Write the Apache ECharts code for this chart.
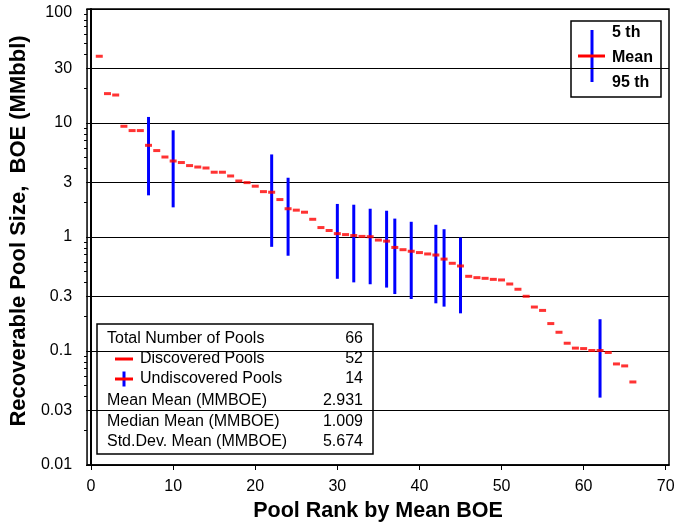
<!DOCTYPE html>
<html><head><meta charset="utf-8">
<script src="https://cdn.jsdelivr.net/npm/echarts@6/dist/echarts.min.js"></script>
<style>html,body{margin:0;padding:0;background:#fff}#c{width:682px;height:529px}</style>
</head><body><div id="c"></div>
<script>
// Mean recoverable pool size (MMBOE) for pools ranked 1..66
const meanBOE = [
  38.5, 18.1, 17.6, 9.36, 8.58, 8.58, 6.37, 5.73, 5.03, 4.64,
  4.50, 4.23, 4.11, 4.03, 3.70, 3.70, 3.43, 3.10, 3.00, 2.79,
  2.50, 2.47, 2.13, 1.77, 1.72, 1.65, 1.43, 1.21, 1.14, 1.07,
  1.05, 1.03, 1.012, 1.006, 0.94, 0.92, 0.81, 0.774, 0.75, 0.73,
  0.71, 0.695, 0.64, 0.588, 0.557, 0.452, 0.44, 0.434, 0.425, 0.42,
  0.387, 0.348, 0.302, 0.243, 0.227, 0.174, 0.146, 0.117, 0.106, 0.105,
  0.101, 0.101, 0.097, 0.077, 0.074, 0.0535
];
// Undiscovered pools: rank, 5th and 95th fractiles
const undiscoveredRank = [7, 10, 22, 24, 30, 32, 34, 36, 37, 39, 42, 43, 45, 62];
const p5 = [2.32, 1.82, 0.82, 0.685, 0.43, 0.40, 0.385, 0.36, 0.316, 0.286, 0.262, 0.245, 0.214, 0.039];
const p95 = [11.3, 8.63, 5.3, 3.31, 1.95, 1.92, 1.77, 1.70, 1.45, 1.36, 1.28, 1.17, 0.99, 0.19];

const xTicks = [0, 10, 20, 30, 40, 50, 60, 70];
const yTicks = [0.01, 0.03, 0.1, 0.3, 1, 3, 10, 30, 100];
const yMinorTicks = [0.02,0.04,0.05,0.06,0.07,0.08,0.09, 0.2,0.4,0.5,0.6,0.7,0.8,0.9,
                     2,4,5,6,7,8,9, 20,40,50,60,70,80,90];

const statsLabels = ['Total Number of Pools', 'Discovered Pools', 'Undiscovered Pools',
                     'Mean Mean (MMBOE)', 'Median Mean (MMBOE)', 'Std.Dev. Mean (MMBOE)'];
const statsValues = ['66', '52', '14', '2.931', '1.009', '5.674'];
const keyLabels = ['5 th', 'Mean', '95 th'];

const FONT = '"Liberation Sans", Arial, sans-serif';
const RED = '#ff0000', BLUE = '#0000ff';

const meanData = meanBOE.map((v, i) => [i + 1, v]);
const rangeData = undiscoveredRank.map((r, i) => [r, p5[i], p95[i]]);

// stats box graphics
const statsRowY = [338.5, 359, 379, 401, 421.5, 442];
const statsEls = [
  {type: 'rect', shape: {x: 97, y: 324, width: 276, height: 130},
   style: {fill: '#fff', stroke: '#000', lineWidth: 1.5}}
];
statsLabels.forEach((t, i) => {
  const indent = (i === 1 || i === 2) ? 140 : 107;
  statsEls.push({type: 'text', x: indent, y: statsRowY[i],
    style: {text: t, font: '16px ' + FONT, fill: '#000', textAlign: 'left', textVerticalAlign: 'middle'}});
  statsEls.push({type: 'text', x: 363, y: statsRowY[i],
    style: {text: statsValues[i], font: '16px ' + FONT, fill: '#000', textAlign: 'right', textVerticalAlign: 'middle'}});
});
statsEls.push({type: 'line', shape: {x1: 115, y1: 359, x2: 133, y2: 359}, style: {stroke: RED, lineWidth: 3}});
statsEls.push({type: 'line', shape: {x1: 124, y1: 371.5, x2: 124, y2: 386.5}, style: {stroke: BLUE, lineWidth: 3}});
statsEls.push({type: 'line', shape: {x1: 115, y1: 379, x2: 133, y2: 379}, style: {stroke: RED, lineWidth: 3}});

// key box graphics
const keyRowY = [33, 58, 83];
const keyEls = [
  {type: 'rect', shape: {x: 571, y: 21, width: 90, height: 76},
   style: {fill: '#fff', stroke: '#000', lineWidth: 1.5}},
  {type: 'line', shape: {x1: 592, y1: 30, x2: 592, y2: 82}, style: {stroke: BLUE, lineWidth: 3}},
  {type: 'line', shape: {x1: 578, y1: 56, x2: 605, y2: 56}, style: {stroke: RED, lineWidth: 3}}
];
keyLabels.forEach((t, i) => {
  keyEls.push({type: 'text', x: 612, y: keyRowY[i],
    style: {text: t, font: 'bold 16px ' + FONT, fill: '#000', textAlign: 'left', textVerticalAlign: 'middle'}});
});

const chart = echarts.init(document.getElementById('c'), null, {renderer: 'canvas'});
chart.setOption({
  animation: false,
  backgroundColor: '#fff',
  grid: {left: 86, right: 13, top: 9, bottom: 64, show: true, borderColor: '#000', borderWidth: 1.5, backgroundColor: 'transparent'},
  xAxis: {
    type: 'value', min: -0.49, max: 70.4,
    name: 'Pool Rank by Mean BOE', nameLocation: 'middle', nameGap: 35,
    nameTextStyle: {fontFamily: FONT, fontWeight: 'bold', fontSize: 21.5, color: '#000'},
    axisLine: {show: true, onZero: false, lineStyle: {color: '#000', width: 1.5}},
    axisTick: {show: true, customValues: xTicks, length: 5, lineStyle: {color: '#000', width: 1}},
    axisLabel: {show: true, customValues: xTicks, margin: 14, fontFamily: FONT, fontSize: 16, color: '#000'},
    splitLine: {show: false}
  },
  yAxis: [{
    type: 'log', logBase: 10, min: 0.01, max: 100,
    name: 'Recoverable Pool Size,  BOE (MMbbl)', nameLocation: 'middle', nameGap: 42, nameRotate: 90,
    nameTextStyle: {fontFamily: FONT, fontWeight: 'bold', fontSize: 22, color: '#000', padding: [0, 0, 0, 12]},
    axisLine: {show: true, lineStyle: {color: '#000', width: 2}},
    axisTick: {show: true, customValues: yTicks, length: 5, lineStyle: {color: '#000', width: 1}},
    axisLabel: {show: true, customValues: yTicks, margin: 15, fontFamily: FONT, fontSize: 16, color: '#000',
      formatter: v => {
        const s = String(+(+v).toPrecision(3));
        return +v >= 100 ? '{top|' + s + '}' : s;
      },
      rich: {top: {fontFamily: FONT, fontSize: 16, color: '#000', padding: [8, 0, 0, 0]}}},
    splitLine: {show: true, lineStyle: {color: '#000', width: 1}}
  }, {
    type: 'log', logBase: 10, min: 0.01, max: 100, position: 'left',
    axisLine: {show: false},
    axisTick: {show: true, customValues: yMinorTicks, length: 3, lineStyle: {color: '#000', width: 1}},
    axisLabel: {show: false},
    splitLine: {show: false}
  }],
  series: [{
    type: 'custom',
    name: 'Undiscovered',
    data: rangeData,
    encode: {x: 0, y: [1, 2]},
    z: 2,
    renderItem: (params, api) => {
      const top = api.coord([api.value(0), api.value(2)]);
      const bot = api.coord([api.value(0), api.value(1)]);
      return {type: 'line', shape: {x1: top[0], y1: top[1], x2: bot[0], y2: bot[1]},
              style: {stroke: BLUE, lineWidth: 3}};
    }
  }, {
    type: 'scatter',
    name: 'Mean',
    data: meanData,
    symbol: 'rect',
    symbolSize: [7, 3],
    itemStyle: {color: RED},
    z: 3
  }],
  graphic: [
    {type: 'group', z: 100, children: statsEls},
    {type: 'group', z: 100, children: keyEls}
  ]
});
</script></body></html>
